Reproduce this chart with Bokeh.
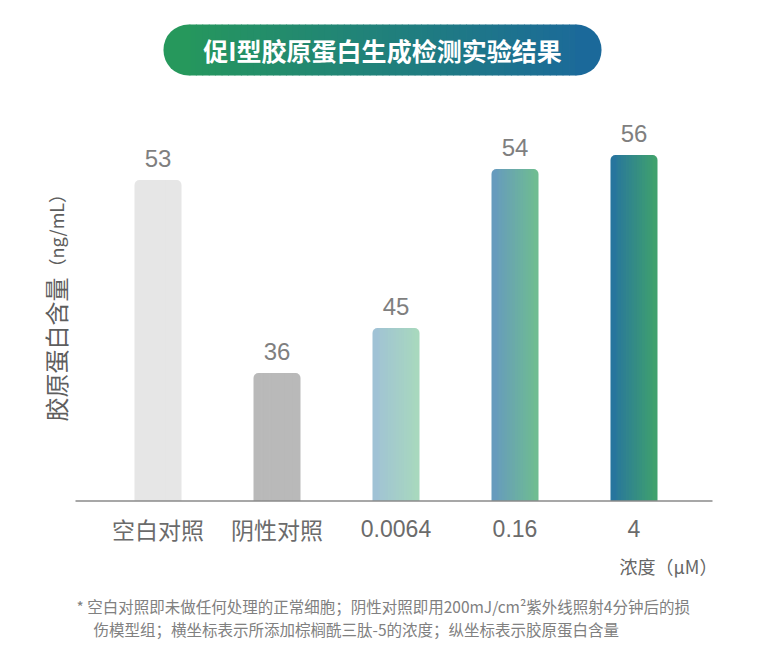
import math
import numpy as np
from bokeh.plotting import figure
from bokeh.models import ColumnDataSource, Range1d
from bokeh.core.properties import value
from bokeh.embed import file_html
from bokeh.resources import INLINE

# data
categories = ["空白对照", "阴性对照", "0.0064", "0.16", "4"]
collagen = [53, 36, 45, 54, 56]          # ng/mL, printed above the bars
# the infographic does not draw its bars to scale, so keep the drawn heights (px)
drawn_heights = [321, 128, 173, 332, 346]
bar_left_colors = ["#e6e6e6", "#b9b9b9", "#a0c1d6", "#6699c0", "#2672a0"]
bar_right_colors = ["#e6e6e6", "#b9b9b9", "#a8d9bd", "#6fbe8f", "#41a46b"]

title = "促I型胶原蛋白生成检测实验结果"
y_label = "胶原蛋白含量"
y_unit = "（ng/mL）"
x_label = "浓度（μM）"
notes = ["* 空白对照即未做任何处理的正常细胞；阴性对照即用200mJ/cm²紫外线照射4分钟后的损",
         "伤模型组；横坐标表示所添加棕榈酰三肽-5的浓度；纵坐标表示胶原蛋白含量"]

CJK = "Noto Sans CJK SC"
LAT = "Liberation Sans"

W, H = 749, 648
STEP = 119.0     # px between category centres
X0 = 157.5       # px of the first centre from the left edge
BASE = 147.5     # px from the bottom edge to the baseline


def px(x):
    """page pixel -> x data"""
    return (x - X0) / STEP


def py(y):
    """page pixel -> y data (px above baseline)"""
    return (H - BASE) - y


def mix(c0, c1, t):
    a = np.array([int(c0[i:i + 2], 16) for i in (1, 3, 5)])
    b = np.array([int(c1[i:i + 2], 16) for i in (1, 3, 5)])
    c = np.round(a + (b - a) * t).astype(int)
    return "#%02x%02x%02x" % tuple(c)


def gradient_box(left, right, top, bottom, c0, c1, cap, n, ov):
    """split a box into slices; returns inner slices, left cap, right cap"""
    width = right - left
    edges = np.linspace(left + cap, right - cap, n + 1)
    inner = dict(left=[], right=[], top=[], bottom=[], color=[])
    for k in range(n):
        t = ((edges[k] + edges[k + 1]) / 2 - left) / width
        inner["left"].append(edges[k])
        inner["right"].append(edges[k + 1] + ov)
        inner["top"].append(top)
        inner["bottom"].append(bottom)
        inner["color"].append(mix(c0, c1, t))
    lcap = dict(left=[left], right=[left + cap + ov], top=[top], bottom=[bottom],
                color=[mix(c0, c1, cap / 2 / width)])
    rcap = dict(left=[right - cap], right=[right], top=[top], bottom=[bottom],
                color=[mix(c0, c1, 1 - cap / 2 / width)])
    return inner, lcap, rcap


p = figure(width=W, height=H, x_range=Range1d(-X0 / STEP, (W - X0) / STEP),
           y_range=Range1d(-BASE, H - BASE), x_axis_location=None, y_axis_location=None,
           toolbar_location=None, output_backend="svg", min_border=0,
           outline_line_color=None, background_fill_color="white")
p.grid.visible = False

# title pill
pill_in, pill_l, pill_r = gradient_box(px(163), px(601), py(24), py(75),
                                       "#26995a", "#1b689c", 26 / STEP, 60, 0.8 / STEP)
p.quad(source=ColumnDataSource(pill_in), left="left", right="right", top="top",
       bottom="bottom", fill_color="color", line_color=None)
p.quad(source=ColumnDataSource(pill_l), left="left", right="right", top="top",
       bottom="bottom", fill_color="color", line_color=None, border_radius=(25, 0, 0, 25))
p.quad(source=ColumnDataSource(pill_r), left="left", right="right", top="top",
       bottom="bottom", fill_color="color", line_color=None, border_radius=(0, 25, 25, 0))
p.text(x=[px(382)], y=[py(49)], text=[title], text_align="center",
       text_baseline="middle", text_font=value(CJK), text_font_size="25px",
       text_color="white", text_font_style="bold")

# bars
BAR_W = 47 / STEP
R = 5
inner = dict(left=[], right=[], top=[], bottom=[], color=[])
lcaps = dict(left=[], right=[], top=[], bottom=[], color=[])
rcaps = dict(left=[], right=[], top=[], bottom=[], color=[])
for i, h in enumerate(drawn_heights):
    a, b, c = gradient_box(i - BAR_W / 2, i + BAR_W / 2, h, 0,
                           bar_left_colors[i], bar_right_colors[i], R / STEP, 14, 0.8 / STEP)
    for d, part in ((inner, a), (lcaps, b), (rcaps, c)):
        for key in d:
            d[key].extend(part[key])

p.quad(source=ColumnDataSource(inner), left="left", right="right", top="top",
       bottom="bottom", fill_color="color", line_color=None)
p.quad(source=ColumnDataSource(lcaps), left="left", right="right", top="top",
       bottom="bottom", fill_color="color", line_color=None, border_radius=(R, 0, 0, 0))
p.quad(source=ColumnDataSource(rcaps), left="left", right="right", top="top",
       bottom="bottom", fill_color="color", line_color=None, border_radius=(0, R, 0, 0))

# baseline
p.line(x=[px(75), px(712)], y=[0, 0], line_color="#8a8a8a", line_width=1.5)

# value labels
labels = ColumnDataSource(dict(x=list(range(len(collagen))),
                               y=[h + 22 for h in drawn_heights],
                               text=[str(v) for v in collagen]))
p.text(x="x", y="y", text="text", source=labels, text_align="center",
       text_baseline="middle", text_font=value(LAT), text_font_size="24px",
       text_color="#7f7f7f")

# category labels
cats = ColumnDataSource(dict(x=list(range(len(categories))),
                             y=[py(528)] * len(categories), text=categories,
                             font=[CJK if any(ord(ch) > 255 for ch in c) else LAT
                                   for c in categories]))
p.text(x="x", y="y", text="text", source=cats, text_align="center",
       text_baseline="middle", text_font="font", text_font_size="23px",
       text_color="#6b6b6b")

# y label (rotated)
p.text(x=[px(55)], y=[py(421)], text=[y_label], angle=math.pi / 2, text_align="left",
       text_baseline="middle", text_font=value(CJK), text_font_size="24px",
       text_color="#5e5e5e")
p.text(x=[px(55)], y=[py(276)], text=[y_unit], angle=math.pi / 2, text_align="left",
       text_baseline="middle", text_font=value(CJK), text_font_size="18px",
       text_color="#5e5e5e")

# x label
p.text(x=[px(619)], y=[py(565)], text=[x_label], text_align="left",
       text_baseline="middle", text_font=value(CJK), text_font_size="18px",
       text_color="#666666")

# footnote
p.text(x=[px(76), px(93)], y=[py(605), py(628)], text=notes, text_align="left",
       text_baseline="middle", text_font=value(CJK), text_font_size="15.5px",
       text_color="#808080")

open("out.html", "w").write(file_html(p, INLINE))
